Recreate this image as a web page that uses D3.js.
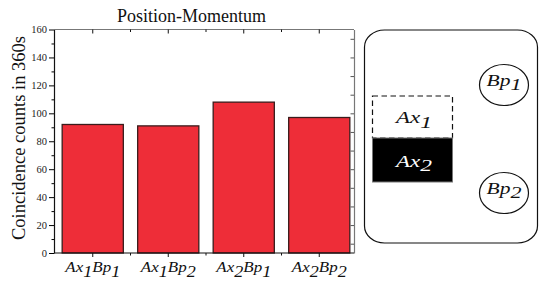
<!DOCTYPE html>
<html>
<head>
<meta charset="utf-8">
<script src="https://cdn.jsdelivr.net/npm/d3@7"></script>
<style>
  body { margin: 0; background: #fff; }
  svg { display: block; font-family: "Liberation Serif", "Times New Roman", serif; }
</style>
</head>
<body>
<svg id="chart" width="539" height="282"></svg>
<script>
// --- data ---
const categories = ['Ax1Bp1', 'Ax1Bp2', 'Ax2Bp1', 'Ax2Bp2'];
const counts     = [92, 91, 108, 97];
const yTicks     = [0, 20, 40, 60, 80, 100, 120, 140, 160];
const yMinor     = [10, 30, 50, 70, 90, 110, 130, 150];
const rightTicks = [0, 1, 2, 3, 4, 5, 6, 7, 8, 9, 10, 11];
const boxLabels    = ['Ax1', 'Ax2'];
const circleLabels = ['Bp1', 'Bp2'];
const title  = 'Position-Momentum';
const yTitle = 'Coincidence counts in 360s';

const serif = '"Liberation Serif", "Times New Roman", serif';
const svg = d3.select('#chart');
const m = { top: 29.5, left: 54 };
const plotW = 300, plotH = 223.5;

// split "Ax1Bp2" into letters + subscript digits
function subText(sel, label, mainSize, subSize, shift) {
  const parts = label.match(/[A-Za-z]+|\d+/g);
  parts.forEach((p, i) => {
    const isSub = /\d/.test(p);
    sel.append('tspan')
      .attr('font-size', isSub ? subSize : mainSize)
      .attr('dy', isSub ? shift : (i > 0 ? -shift : 0))
      .text(p);
  });
}

// italic label, stretched horizontally to the given width, centred on cx
function stretchedLabel(parent, label, cx, baseY, width, mainSize, subSize, shift, fill) {
  const g = parent.append('g').attr('transform', `translate(${cx},${baseY})`);
  const t = g.append('text')
    .attr('font-family', serif)
    .attr('font-style', 'italic')
    .attr('fill', fill || '#111');
  subText(t, label, mainSize, subSize, shift);
  const w = t.node().getComputedTextLength();
  t.attr('transform', `translate(${-width / 2},0) scale(${width / w},1)`);
  return g;
}

const chart = svg.append('g').attr('transform', `translate(${m.left},${m.top})`);

const x = d3.scaleBand().domain(categories).range([1, 303])
  .paddingInner(0.19).paddingOuter(0.095);
const y = d3.scaleLinear().domain([0, 160]).range([plotH, 0]);
const yR = d3.scaleLinear().domain([-0.5, 11.5]).range([plotH, 0]);

// --- bars ---
chart.selectAll('.bar')
  .data(categories)
  .join('rect')
    .attr('class', 'bar')
    .attr('x', d => x(d))
    .attr('y', (d, i) => y(counts[i]))
    .attr('width', x.bandwidth())
    .attr('height', (d, i) => plotH - y(counts[i]))
    .attr('fill', '#ee2d38')
    .attr('stroke', '#3a1c1c')
    .attr('stroke-width', 1.3);

// --- frame: top and right gray ---
chart.append('line')
  .attr('x1', 0).attr('x2', plotW).attr('y1', 0).attr('y2', 0)
  .attr('stroke', '#777').attr('stroke-width', 1.2);

const rightAxis = chart.append('g')
  .attr('transform', `translate(${plotW},0)`)
  .call(d3.axisRight(yR).tickValues(rightTicks).tickSize(-3.5).tickSizeOuter(0).tickFormat(''));
rightAxis.select('.domain').attr('stroke', '#777').attr('stroke-width', 1.2);
rightAxis.selectAll('.tick line').attr('stroke', '#555');

// --- left axis ---
const leftAxis = chart.append('g')
  .call(d3.axisLeft(y).tickValues(yTicks).tickSize(5).tickPadding(2).tickSizeOuter(0));
leftAxis.attr('font-family', serif);
leftAxis.select('.domain').attr('stroke', '#111').attr('stroke-width', 1.2);
leftAxis.selectAll('.tick text')
  .attr('font-size', 10.5).attr('fill', '#222');
chart.append('g')
  .call(d3.axisLeft(y).tickValues(yMinor).tickSize(2.5).tickFormat(''))
  .call(g => g.select('.domain').remove());

// --- bottom axis + top ticks ---
chart.append('line')
  .attr('x1', 0).attr('x2', plotW).attr('y1', plotH).attr('y2', plotH)
  .attr('stroke', '#111').attr('stroke-width', 1.2);

const centers = categories.map(c => x(c) + x.bandwidth() / 2);
const gap = (x.step() - x.bandwidth()) / 2;
const bounds = categories.slice(1).map(c => x(c) - gap);

[[centers, 4], [bounds, 2.5]].forEach(([xs, len]) => {
  chart.selectAll(null).data(xs).join('line')
    .attr('x1', d => d).attr('x2', d => d)
    .attr('y1', plotH).attr('y2', plotH + len)
    .attr('stroke', '#111');
  chart.selectAll(null).data(xs).join('line')
    .attr('x1', d => d).attr('x2', d => d)
    .attr('y1', 0).attr('y2', len)
    .attr('stroke', '#111');
});

// x labels
categories.forEach(c => {
  stretchedLabel(chart, c, x(c) + x.bandwidth() / 2, 242.5, 55, 15, 16, 4.5);
});

// --- titles ---
svg.append('text')
  .attr('x', 191.5).attr('y', 22)
  .attr('text-anchor', 'middle')
  .attr('font-size', 18).attr('fill', '#111')
  .text(title);

svg.append('text')
  .attr('transform', 'translate(25,138) rotate(-90)')
  .attr('text-anchor', 'middle')
  .attr('font-size', 18.5).attr('fill', '#111')
  .text(yTitle);

// --- diagram on the right ---
const diag = svg.append('g');
diag.append('rect')
  .attr('x', 364.5).attr('y', 30).attr('width', 173).attr('height', 213)
  .attr('rx', 20).attr('ry', 17)
  .attr('fill', 'none').attr('stroke', '#111').attr('stroke-width', 1.2);

diag.append('rect')
  .attr('x', 372.5).attr('y', 96).attr('width', 80).attr('height', 42)
  .attr('fill', '#fff').attr('stroke', '#111').attr('stroke-width', 1.2)
  .attr('stroke-dasharray', '5.5,3.5');
diag.append('rect')
  .attr('x', 372.5).attr('y', 138).attr('width', 80).attr('height', 44)
  .attr('fill', '#000').attr('stroke', '#777').attr('stroke-width', 1);

const boxY = [123, 166.5];
boxLabels.forEach((d, i) => {
  stretchedLabel(diag, d, 414, boxY[i], 36, 17, 17.5, 4.5, i === 0 ? '#111' : '#fff');
});

const circY = [85, 193];
circleLabels.forEach((d, i) => {
  diag.append('ellipse')
    .attr('cx', 504).attr('cy', circY[i]).attr('rx', 24.5).attr('ry', 20.5)
    .attr('fill', 'none').attr('stroke', '#111').attr('stroke-width', 1.2);
  stretchedLabel(diag, d, 504, circY[i] + 0.5, 35, 17, 17.5, 4.5);
});
</script>
</body>
</html>
